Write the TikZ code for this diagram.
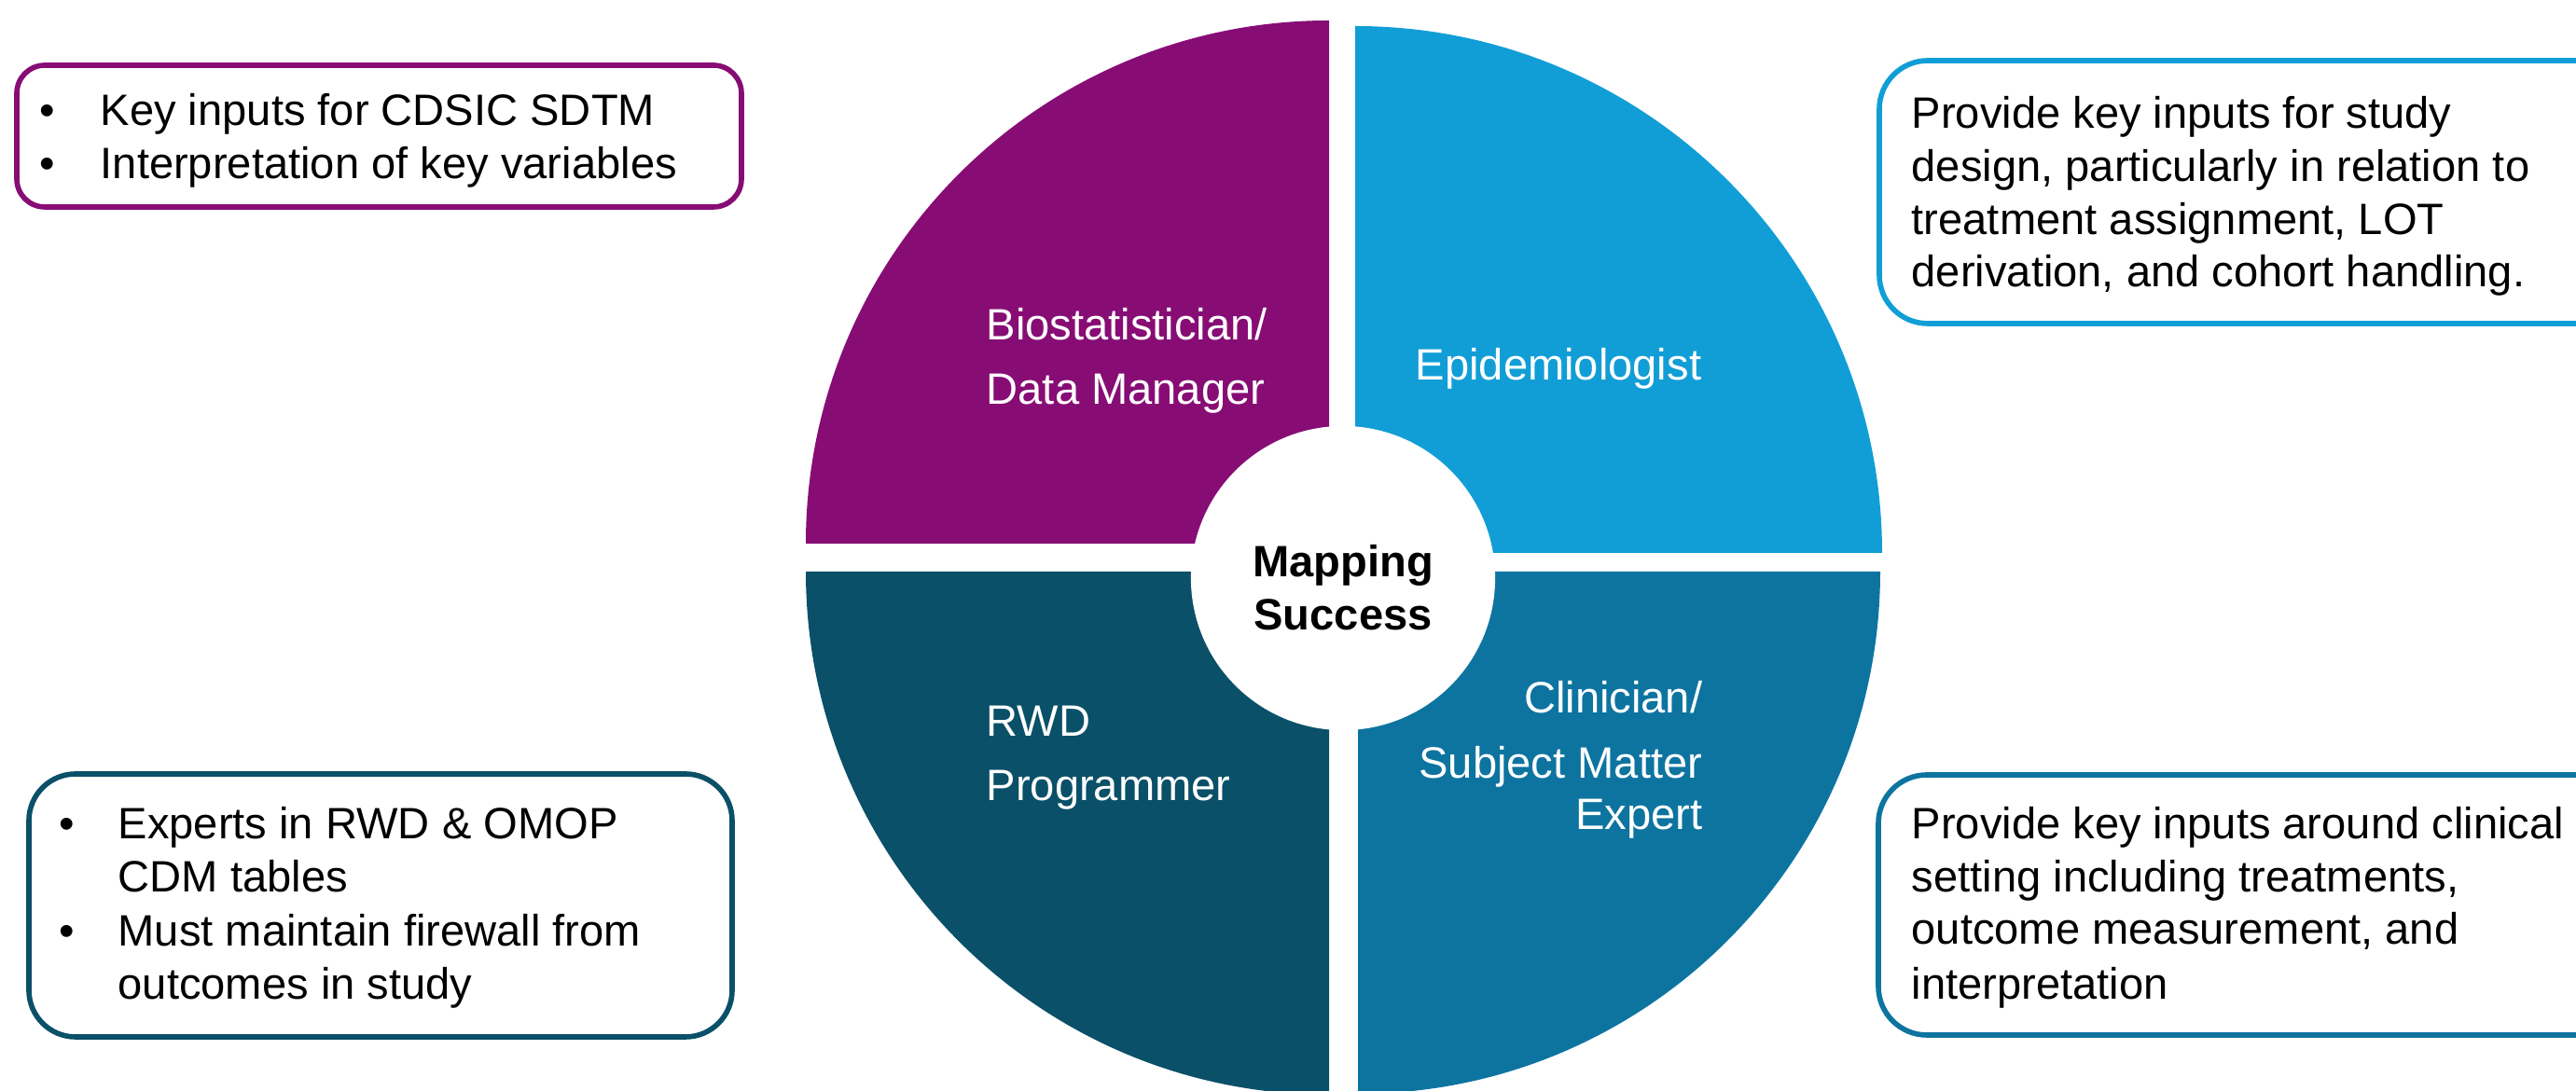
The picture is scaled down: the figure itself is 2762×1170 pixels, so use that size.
\documentclass[tikz,border=0pt]{standalone}
\usepackage{fontspec}
\setmainfont{Liberation Sans}
\definecolor{cPurple}{RGB}{135,13,117}
\definecolor{cSky}{RGB}{17,158,214}
\definecolor{cDeep}{RGB}{10,80,104}
\definecolor{cSea}{RGB}{13,116,160}
\begin{document}
\begin{tikzpicture}[x=0.01cm,y=0.01cm,
  line/.style={inner sep=0pt, font=\fontsize{13.4}{16.2}\selectfont, anchor=base west},
  lineR/.style={line, anchor=base east},
  dot/.style={inner sep=0pt, font=\fontsize{13.4}{16.2}\selectfont, anchor=base},
  role/.style={line, text=white},
  roleR/.style={lineR, text=white},
  notebox/.style={line width=1.6pt, fill=white},
  hubdisk/.style={circle, fill=white, inner sep=0pt, minimum size=3.26cm},
  hubtext/.style={inner sep=0pt, align=center, font=\fontsize{13.4}{16.2}\selectfont\bfseries}]
\useasboundingbox (0,0) rectangle (2762,1170);
\clip (0,0) rectangle (2762,1170);

% four quadrants of the wheel
\fill[cPurple] (1425,587) -- (864,587) arc[start angle=180,end angle=90,radius=561] -- cycle;
\fill[cSky] (1453,577) -- (1453,1142) arc[start angle=90,end angle=0,radius=565] -- cycle;
\fill[cDeep] (1425,557) -- (864,557) arc[start angle=180,end angle=270,radius=561] -- cycle;
\fill[cSea] (1456,557) -- (2016,557) arc[start angle=0,end angle=-90,radius=560] -- cycle;

% hub
\node[hubdisk] (hub) at (1440,550) {};
\node[hubtext] (hubtxt) at (1440,540) {Mapping\\Success};

% role labels
\node[role] (bio1) at (1057,805) {Biostatistician/};
\node[role] (bio2) at (1057,736) {Data Manager};
\node[role] (epi) at (1517,762) {Epidemiologist};
\node[role] (rwd1) at (1057,380) {RWD};
\node[role] (rwd2) at (1057,311) {Programmer};
\node[roleR] (cli1) at (1826,405) {Clinician/};
\node[roleR] (cli2) at (1826,335) {Subject Matter};
\node[roleR] (cli3) at (1826,280) {Expert};

% note boxes
\draw[notebox, draw=cPurple, rounded corners=0.3cm] (18,1100) rectangle (795,948);
\draw[notebox, draw=cSky, rounded corners=0.52cm] (2015,1105) rectangle (2850,823);
\draw[notebox, draw=cDeep, rounded corners=0.5cm] (31,340) rectangle (785,58);
\draw[notebox, draw=cSea, rounded corners=0.52cm] (2014,339) rectangle (2850,60);

% top-left notes
\node[dot] (tlb1) at (51,1035) {•};
\node[line] (tl1) at (107,1035) {Key inputs for CDSIC SDTM};
\node[dot] (tlb2) at (51,978) {•};
\node[line] (tl2) at (107,978) {Interpretation of key variables};

% top-right notes
\node[line] (tr1) at (2049,1032) {Provide key inputs for study};
\node[line] (tr2) at (2049,975) {design, particularly in relation to};
\node[line] (tr3) at (2049,918) {treatment assignment, LOT};
\node[line] (tr4) at (2049,862) {derivation, and cohort handling.};

% bottom-left notes
\node[dot] (blb1) at (72,270) {•};
\node[line] (bl1) at (126,270) {Experts in RWD \& OMOP};
\node[line] (bl2) at (126,213) {CDM tables};
\node[dot] (blb2) at (72,155) {•};
\node[line] (bl3) at (126,155) {Must maintain firewall from};
\node[line] (bl4) at (126,98) {outcomes in study};

% bottom-right notes
\node[line] (br1) at (2049,270) {Provide key inputs around clinical};
\node[line] (br2) at (2049,213) {setting including treatments,};
\node[line] (br3) at (2049,157) {outcome measurement, and};
\node[line] (br4) at (2049,98) {interpretation};
\end{tikzpicture}
\end{document}
